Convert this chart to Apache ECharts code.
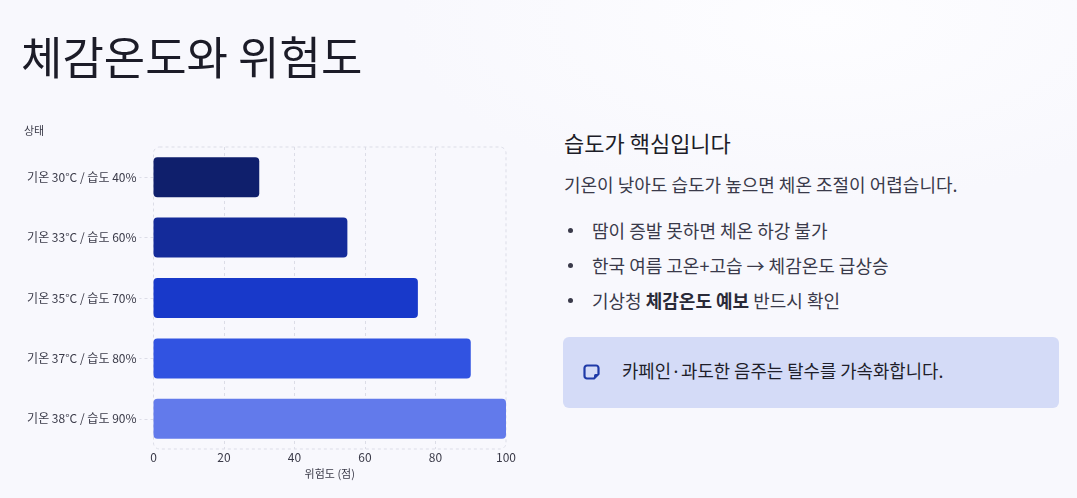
<!DOCTYPE html>
<html>
<head>
<meta charset="utf-8">
<script src="https://cdn.jsdelivr.net/npm/echarts@6/dist/echarts.min.js"></script>
<style>
  html, body { margin:0; padding:0; width:1077px; height:498px; overflow:hidden;
    font-family:"Noto Sans CJK KR","Noto Sans",sans-serif; }
  body { background: radial-gradient(ellipse 600px 260px at 820px 20px, #fdfdff 0%, #f8f8fd 70%), #f8f8fd; background-color:#f8f8fd; position:relative; }
  #title { position:absolute; left:21px; top:26px; font-size:45px; line-height:60px; color:#1c1c28; font-weight:400; letter-spacing:0; }
  #chart { position:absolute; left:0; top:0; width:540px; height:498px; }
  .r { position:absolute; left:564px; color:#3a3a4a; white-space:nowrap; }
  #h2 { top:127px; font-size:22px; line-height:30px; color:#1c1c28; }
  #p { top:171px; font-size:18px; line-height:26px; }
  .li { left:592px; font-size:18px; line-height:26px; }
  .dot { position:absolute; left:568px; width:5px; height:5px; border-radius:50%; background:#3a3a4a; }
  #box { position:absolute; left:563px; top:337px; width:496px; height:71px; background:#d4dbf7; border-radius:6px; }
  #box .t { position:absolute; left:59px; top:20px; font-size:17.8px; line-height:26px; color:#1e1e2a; white-space:nowrap; }
  #box svg { position:absolute; left:20px; top:26px; }
</style>
</head>
<body>
<div id="chart"></div>
<div id="title">체감온도와 위험도</div>
<div class="r" id="h2">습도가 핵심입니다</div>
<div class="r" id="p">기온이 낮아도 습도가 높으면 체온 조절이 어렵습니다.</div>
<div class="dot" style="top:228px"></div>
<div class="r li" style="top:217px">땀이 증발 못하면 체온 하강 불가</div>
<div class="dot" style="top:263px"></div>
<div class="r li" style="top:252px">한국 여름 고온+고습 → 체감온도 급상승</div>
<div class="dot" style="top:298px"></div>
<div class="r li" style="top:287px">기상청 <b style="color:#2a2a38">체감온도 예보</b> 반드시 확인</div>
<div id="box">
  <svg width="18" height="18" viewBox="0 0 18 18">
    <path d="M4 2.5 H13 A2.5 2.5 0 0 1 15.5 5 V11 L11 15.5 H4 A2.5 2.5 0 0 1 1.5 13 V5 A2.5 2.5 0 0 1 4 2.5 Z" fill="none" stroke="#1f3aa8" stroke-width="2.2" stroke-linejoin="round"/>
    <path d="M15.5 11 H12.5 A1.5 1.5 0 0 0 11 12.5 V15.5 Z" fill="#1f3aa8"/>
  </svg>
  <div class="t">카페인·과도한 음주는 탈수를 가속화합니다.</div>
</div>
<script>
const categories = ['기온 30°C / 습도 40%','기온 33°C / 습도 60%','기온 35°C / 습도 70%','기온 37°C / 습도 80%','기온 38°C / 습도 90%'];
const riskValues = [30, 55, 75, 90, 100];
const barColors = ['#0f1f6c','#142b9a','#1839ca','#3153e1','#627aeb'];
const xTicks = [0, 20, 40, 60, 80, 100];
const xAxisName = '위험도 (점)';
const yAxisName = '상태';

const G = { left:153.5, top:147, width:352.5, height:302 };
const font = '"Noto Sans CJK KR","Noto Sans",sans-serif';
const chart = echarts.init(document.getElementById('chart'), null, {renderer:'canvas'});
chart.setOption({
  backgroundColor:'transparent',
  textStyle:{ fontFamily:font },
  grid:{ left:G.left, top:G.top, width:G.width, height:G.height, outerBoundsMode:'none', containLabel:false },
  graphic:[
    { type:'rect', silent:true, z:0,
      shape:{ x:G.left, y:G.top, width:G.width, height:G.height, r:6 },
      style:{ fill:'none', stroke:'#dcdde7', lineWidth:1, lineDash:[3,3] } },
    { type:'text', left:24, top:125, style:{ text:yAxisName, fontSize:11, fill:'#3a3a48', fontFamily:font } }
  ],
  xAxis:{
    type:'value', min:xTicks[0], max:xTicks[xTicks.length-1], interval:xTicks[1]-xTicks[0],
    name:xAxisName, nameLocation:'middle', nameGap:18,
    nameTextStyle:{ fontSize:11, color:'#3a3a48', fontFamily:font },
    axisLine:{ show:false }, axisTick:{ show:false },
    axisLabel:{ fontSize:12, color:'#3a3a48', margin:2, fontFamily:font },
    splitLine:{ show:true, showMinLine:false, showMaxLine:false, lineStyle:{ color:'#dcdde7', type:[3,3] } }
  },
  yAxis:{
    type:'category', inverse:true, data:categories,
    axisLine:{ show:false },
    axisTick:{ show:true, alignWithLabel:true, length:14, lineStyle:{ color:'#dcdde7', type:[3,3] } },
    axisLabel:{ fontSize:12, color:'#3a3a48', margin:17, fontFamily:font },
    splitLine:{ show:false }
  },
  series:[{
    type:'bar', barWidth:40,
    data: riskValues.map((v,i)=>({ value:v, itemStyle:{ color:barColors[i] } })),
    itemStyle:{ borderRadius:4 },
    emphasis:{ disabled:true }
  }],
  animation:false
});
</script>
</body>
</html>
